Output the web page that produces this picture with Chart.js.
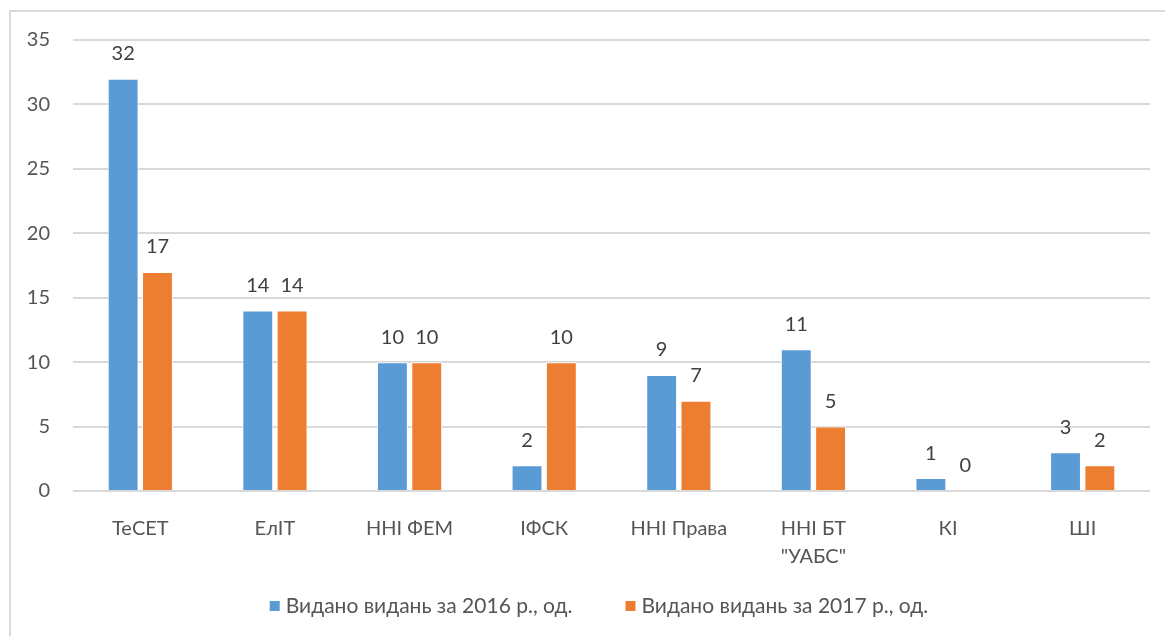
<!DOCTYPE html>
<html>
<head>
<meta charset="utf-8">
<script src="https://cdn.jsdelivr.net/npm/chart.js@4/dist/chart.umd.min.js"></script>
<style>
html,body{margin:0;padding:0;background:#fff;}
#wrap{position:absolute;left:0;top:0;width:1165px;height:636px;}
</style>
</head>
<body>
<div id="wrap"><canvas id="grafico"></canvas></div>
<script>
// categorie (facoltà) e valori
const categorie = ["ТеСЕТ", "ЕлІТ", "ННІ ФЕМ", "ІФСК", "ННІ Права", ["ННІ БТ", "\"УАБС\""], "КІ", "ШІ"];
const val2016 = [32, 14, 10, 2, 9, 11, 1, 3];
const val2017 = [17, 14, 10, 10, 7, 5, 0, 2];
const etichette = ["Видано видань за 2016 р., од.", "Видано видань за 2017 р., од."];
const tickY = [0, 5, 10, 15, 20, 25, 30, 35];

const FONT = "Lato, 'Open Sans', sans-serif";
const grigio = "#555555";

// cornice grigia come nell'originale
const cornice = {
  id: "cornice",
  beforeDraw(chart){
    const c = chart.ctx;
    c.save();
    c.strokeStyle = "#d9d9d9";
    c.lineWidth = 2;
    c.strokeRect(10, 11, 1300, 800);
    c.restore();
  }
};

// etichette dei valori sopra le barre
const valori = {
  id: "valori",
  afterDatasetsDraw(chart){
    const c = chart.ctx;
    c.save();
    c.font = "20px " + FONT;
    c.fillStyle = "#404040";
    c.textAlign = "center";
    c.textBaseline = "middle";
    chart.data.datasets.forEach((ds, i) => {
      chart.getDatasetMeta(i).data.forEach((bar, j) => {
        c.fillText(String(ds.data[j]), bar.x, bar.y - 25);
      });
    });
    c.restore();
  }
};

// legenda in basso disegnata a mano
const legenda = {
  id: "legenda",
  afterDraw(chart){
    const c = chart.ctx;
    c.save();
    c.font = "21px " + FONT;
    c.textBaseline = "middle";
    c.textAlign = "left";
    const ds = chart.data.datasets;
    const box = 10, gap = 6, spazio = 53;
    let tot = 0;
    ds.forEach((d, i) => {
      tot += box + gap + c.measureText(d.label).width;
      if(i < ds.length - 1) tot += spazio;
    });
    let x = 599 - tot / 2;
    const y = 606;
    ds.forEach(d => {
      c.fillStyle = d.backgroundColor;
      c.fillRect(x, y - box / 2, box, box);
      x += box + gap;
      c.fillStyle = grigio;
      c.fillText(d.label, x, y);
      x += c.measureText(d.label).width + spazio;
    });
    c.restore();
  }
};

new Chart(document.getElementById("grafico"), {
  type: "bar",
  data: {
    labels: categorie,
    datasets: [
      {label: etichette[0], data: val2016, backgroundColor: "#5b9bd5", borderColor: "#ffffff", borderWidth: 1, categoryPercentage: 0.51, barPercentage: 0.9},
      {label: etichette[1], data: val2017, backgroundColor: "#ed7d31", borderColor: "#ffffff", borderWidth: 1, categoryPercentage: 0.51, barPercentage: 0.9}
    ]
  },
  options: {
    responsive: true,
    maintainAspectRatio: false,
    animation: false,
    layout: {padding: {top: 40, right: 15, bottom: 0, left: 0}},
    plugins: {
      tooltip: {enabled: false},
      legend: {display: false}
    },
    scales: {
      x: {
        grid: {display: false},
        border: {display: false},
        ticks: {color: grigio, font: {family: FONT, size: 20, lineHeight: 1.4}, padding: 16, maxRotation: 0},
        afterFit(s){ s.height = 145; }
      },
      y: {
        min: 0,
        max: 35,
        afterBuildTicks(s){ s.ticks = tickY.map(v => ({value: v})); },
        grid: {color: "#d9d9d9", lineWidth: 2, drawTicks: false},
        border: {display: false},
        ticks: {color: grigio, font: {family: FONT, size: 20}, padding: 23},
        afterFit(s){ s.width = 73; }
      }
    }
  },
  plugins: [cornice, valori, legenda]
});
</script>
</body>
</html>
